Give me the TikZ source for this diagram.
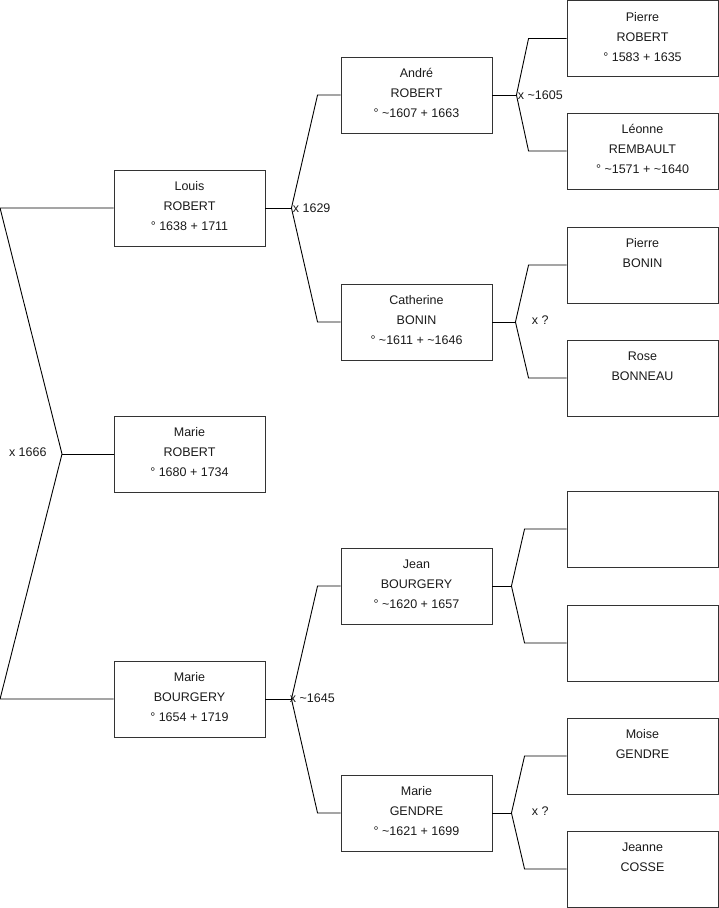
\documentclass[tikz,border=0pt]{standalone}
\usepackage{fontspec}
\setmainfont{Liberation Sans}
\usetikzlibrary{calc}
\definecolor{cline}{HTML}{000000}
\definecolor{cbox}{HTML}{333333}
\definecolor{ctext}{HTML}{1A1A1A}
\newcommand{\ca}{\textasciitilde}
\newcommand{\who}[1]{\parbox[c][76pt][t]{151pt}{\centering\rule{0pt}{20.5pt}#1}}
\tikzset{
  every picture/.style={line width=0.9pt},
  person/.style={draw=cbox, rectangle, inner sep=0pt, text=ctext, font=\fontsize{12.5}{20}\selectfont},
  link/.style={draw=cline, line width=0.9pt},
  marriage/.style={font=\fontsize{12.5}{15}\selectfont, text=ctext, inner sep=1pt},
}

\begin{document}
\begin{tikzpicture}[x=1pt, y=-1pt]
  \useasboundingbox (0,0) rectangle (719,908);
  % generation 1
  \node[person] (louis) at (189.5,208) {\who{Louis\\ROBERT\\° 1638 + 1711}};
  \node[person] (marieR) at (189.5,454) {\who{Marie\\ROBERT\\° 1680 + 1734}};
  \node[person] (marieB) at (189.5,699) {\who{Marie\\BOURGERY\\° 1654 + 1719}};
  % generation 2
  \node[person] (andre) at (416.5,95) {\who{André\\ROBERT\\° \ca1607 + 1663}};
  \node[person] (catherine) at (416.5,322) {\who{Catherine\\BONIN\\° \ca1611 + \ca1646}};
  \node[person] (jean) at (416.5,586) {\who{Jean\\BOURGERY\\° \ca1620 + 1657}};
  \node[person] (gendre) at (416.5,813) {\who{Marie\\GENDRE\\° \ca1621 + 1699}};
  % generation 3
  \node[person] (pierreR) at (642.5,38.5) {\who{Pierre\\ROBERT\\° 1583 + 1635}};
  \node[person] (leonne) at (642.5,151) {\who{Léonne\\REMBAULT\\° \ca1571 + \ca1640}};
  \node[person] (pierreB) at (642.5,265) {\who{Pierre\\BONIN}};
  \node[person] (rose) at (642.5,378) {\who{Rose\\BONNEAU}};
  \node[person] (unknownA) at (642.5,529) {\who{}};
  \node[person] (unknownB) at (642.5,643) {\who{}};
  \node[person] (moise) at (642.5,756) {\who{Moise\\GENDRE}};
  \node[person] (jeanne) at (642.5,869) {\who{Jeanne\\COSSE}};

  % fork points
  \coordinate (fk0) at (62,454);
  \coordinate (fk1) at ($(louis.east)+(26,0)$);
  \coordinate (fk2) at ($(marieB.east)+(26,0)$);
  \coordinate (fk3) at ($(andre.east)+(24,0)$);
  \coordinate (fk4) at ($(catherine.east)+(23,0)$);
  \coordinate (fk5) at ($(jean.east)+(19,0)$);
  \coordinate (fk6) at ($(gendre.east)+(19,0)$);

  % connectors
  \draw[link] (louis.west) -- ++(-113.5,0) -- (fk0) -- ($(marieB.west)+(-113.5,0)$) -- (marieB.west);
  \draw[link] (fk0) -- (marieR.west);
  \draw[link] (louis.east) -- (fk1);
  \draw[link] (andre.west) -- ++(-23,0) -- (fk1) -- ($(catherine.west)+(-23,0)$) -- (catherine.west);
  \draw[link] (marieB.east) -- (fk2);
  \draw[link] (jean.west) -- ++(-23,0) -- (fk2) -- ($(gendre.west)+(-23,0)$) -- (gendre.west);
  \draw[link] (andre.east) -- (fk3);
  \draw[link] (pierreR.west) -- ++(-38,0) -- (fk3) -- ($(leonne.west)+(-38,0)$) -- (leonne.west);
  \draw[link] (catherine.east) -- (fk4);
  \draw[link] (pierreB.west) -- ++(-38,0) -- (fk4) -- ($(rose.west)+(-38,0)$) -- (rose.west);
  \draw[link] (jean.east) -- (fk5);
  \draw[link] (unknownA.west) -- ++(-42,0) -- (fk5) -- ($(unknownB.west)+(-42,0)$) -- (unknownB.west);
  \draw[link] (gendre.east) -- (fk6);
  \draw[link] (moise.west) -- ++(-42,0) -- (fk6) -- ($(jeanne.west)+(-42,0)$) -- (jeanne.west);

  % marriages
  \node[marriage, anchor=east] (m0) at ($(fk0)+(-14,-2)$) {x 1666};
  \node[marriage, anchor=west] (m1) at (fk1) {x 1629};
  \node[marriage, anchor=west] (m2) at ($(fk2)+(-3,-1)$) {x \ca1645};
  \node[marriage, anchor=west] (m3) at (fk3) {x \ca1605};
  \node[marriage, anchor=west] (m4) at ($(fk4)+(15,-2)$) {x ?};
  \node[marriage, anchor=west] (m6) at ($(fk6)+(19,-2)$) {x ?};
\end{tikzpicture}
\end{document}
